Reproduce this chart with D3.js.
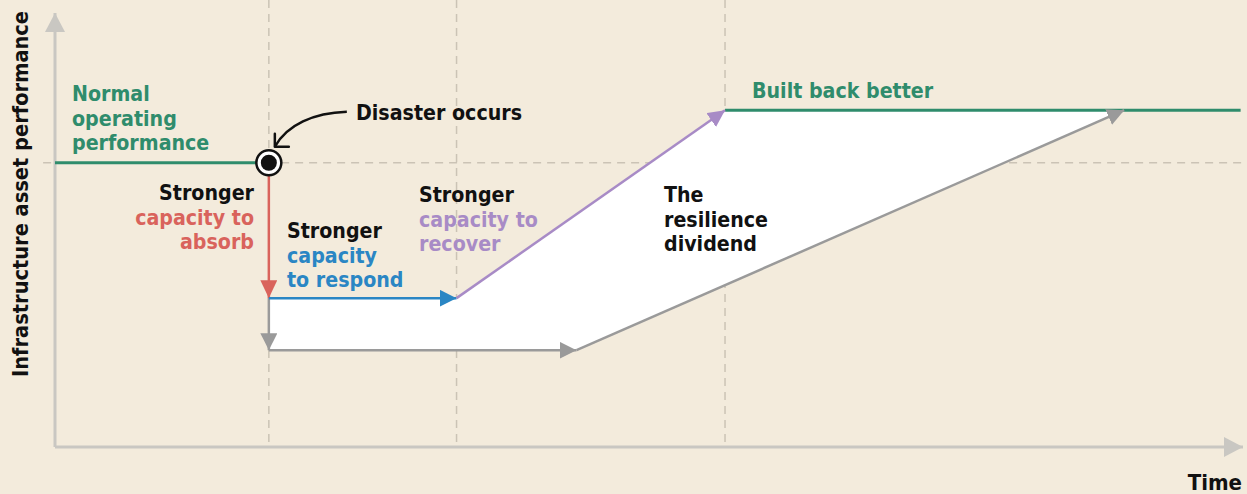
<!DOCTYPE html>
<html>
<head>
<meta charset="utf-8">
<script src="https://cdn.jsdelivr.net/npm/d3@7"></script>
<style>
  html, body { margin: 0; padding: 0; background: #f3ebdc; }
  svg text { font-family: "DejaVu Sans Condensed", "DejaVu Sans", sans-serif; font-weight: 700; }
</style>
</head>
<body>
<div id="chart"></div>
<script>
// Resilience dividend diagram

// Time markers (arbitrary units, 0-100)
const disasterT = 18;
const respondT = 33.8;
const slowTurnT = 43.9;
const rebuildT = 56.4;
const slowEndT = 90;
const endT = 99.8;
const guideTimes = [disasterT, respondT, rebuildT];

// Performance levels (arbitrary units, 0-100)
const normalLevel = 65.5;
const betterLevel = 77.6;
const absorbLevel = 34.3;
const slowLevel = 22.3;

// Series
const normalLine = [[0, normalLevel], [disasterT, normalLevel]];
const absorbArrow = [[disasterT, normalLevel], [disasterT, absorbLevel]];
const respondArrow = [[disasterT, absorbLevel], [respondT, absorbLevel]];
const recoverArrow = [[respondT, absorbLevel], [rebuildT, betterLevel]];
const betterLine = [[rebuildT, betterLevel], [endT, betterLevel]];
const slowArrows = [
  [[disasterT, absorbLevel], [disasterT, slowLevel]],
  [[disasterT, slowLevel], [slowTurnT, slowLevel]],
  [[slowTurnT, slowLevel], [slowEndT, betterLevel]],
];
const dividendArea = [
  [disasterT, absorbLevel], [respondT, absorbLevel], [rebuildT, betterLevel],
  [slowEndT, betterLevel], [slowTurnT, slowLevel], [disasterT, slowLevel],
];

const W = 1247, H = 494;
const colors = {
  green: "#2f8c6c",
  red: "#d9635c",
  blue: "#2a86c4",
  purple: "#a88bc6",
  grey: "#9a9a9a",
  axis: "#c9c7c2",
  guide: "#cbc3b5",
};

var svg = d3.select("#chart").append("svg")
  .attr("width", W)
  .attr("height", H);

var x = d3.scaleLinear().domain([0, 100]).range([55, 1243]);
var y = d3.scaleLinear().domain([0, 100]).range([447, 13]);

var line = d3.line()
  .x(function (d) { return x(d[0]); })
  .y(function (d) { return y(d[1]); });

// arrow markers
var defs = svg.append("defs");
function addMarker(id, color, len, wid) {
  defs.append("marker")
    .attr("id", id)
    .attr("markerUnits", "userSpaceOnUse")
    .attr("viewBox", "0 0 " + len + " " + wid)
    .attr("markerWidth", len)
    .attr("markerHeight", wid)
    .attr("refX", len)
    .attr("refY", wid / 2)
    .attr("orient", "auto")
    .append("path")
    .attr("d", "M0,0L" + len + "," + wid / 2 + "L0," + wid + "Z")
    .attr("fill", color);
}
addMarker("arr-red", colors.red, 18, 17);
addMarker("arr-blue", colors.blue, 17, 17);
addMarker("arr-purple", colors.purple, 17, 17);
addMarker("arr-grey", colors.grey, 17, 17);
addMarker("arr-axis", colors.axis, 19, 20);

// guide lines
svg.selectAll(".vguide")
  .data(guideTimes)
  .enter()
  .append("line")
  .attr("x1", function (d) { return x(d); })
  .attr("x2", function (d) { return x(d); })
  .attr("y1", 0)
  .attr("y2", y(0))
  .attr("stroke", colors.guide)
  .attr("stroke-width", 1.5)
  .attr("stroke-dasharray", "8,6");

svg.append("line")
  .attr("x1", x(-1))
  .attr("x2", x(100))
  .attr("y1", y(normalLevel))
  .attr("y2", y(normalLevel))
  .attr("stroke", colors.guide)
  .attr("stroke-width", 1.5)
  .attr("stroke-dasharray", "8,6");

// white dividend area
svg.append("path")
  .attr("d", line(dividendArea) + "Z")
  .attr("fill", "#ffffff");

// axes
svg.append("line")
  .attr("x1", x(0)).attr("y1", y(0))
  .attr("x2", x(0)).attr("y2", y(100))
  .attr("stroke", colors.axis)
  .attr("stroke-width", 3)
  .attr("marker-end", "url(#arr-axis)");
svg.append("line")
  .attr("x1", x(0)).attr("y1", y(0))
  .attr("x2", x(100)).attr("y2", y(0))
  .attr("stroke", colors.axis)
  .attr("stroke-width", 3)
  .attr("marker-end", "url(#arr-axis)");

function drawPath(data, color, width, marker) {
  var p = svg.append("path")
    .datum(data)
    .attr("d", line)
    .attr("fill", "none")
    .attr("stroke", color)
    .attr("stroke-width", width);
  if (marker) p.attr("marker-end", "url(#" + marker + ")");
  return p;
}

drawPath(normalLine, colors.green, 3);
drawPath(betterLine, colors.green, 3);
slowArrows.forEach(function (seg) {
  drawPath(seg, colors.grey, 2.5, "arr-grey");
});
drawPath(absorbArrow, colors.red, 2.5, "arr-red");
drawPath(respondArrow, colors.blue, 2.5, "arr-blue");
drawPath(recoverArrow, colors.purple, 2.5, "arr-purple");

// disaster marker
var dx = x(disasterT), dy = y(normalLevel);
svg.append("circle")
  .attr("cx", dx).attr("cy", dy).attr("r", 12.5)
  .attr("fill", "#ffffff")
  .attr("stroke", "#111")
  .attr("stroke-width", 2.5);
svg.append("circle")
  .attr("cx", dx).attr("cy", dy).attr("r", 8)
  .attr("fill", "#111");

// curved pointer from label
svg.append("path")
  .attr("d", "M" + (dx + 78) + "," + (dy - 51) +
    "C" + (dx + 45) + "," + (dy - 50) + " " + (dx + 18) + "," + (dy - 38) + " " + (dx + 6) + "," + (dy - 16))
  .attr("fill", "none")
  .attr("stroke", "#111")
  .attr("stroke-width", 2.5);
svg.append("path")
  .attr("d", "M" + (dx + 6) + "," + (dy - 29) + "L" + (dx + 6) + "," + (dy - 16) + "L" + (dx + 20) + "," + (dy - 16))
  .attr("fill", "none")
  .attr("stroke", "#111")
  .attr("stroke-width", 2.5)
  .attr("stroke-linejoin", "round")
  .attr("stroke-linecap", "round");

// text labels
function label(lines, px, py, anchor, size) {
  var t = svg.append("text")
    .attr("x", px)
    .attr("y", py)
    .attr("font-size", size || 21.2)
    .attr("text-anchor", anchor || "start");
  lines.forEach(function (l, i) {
    t.append("tspan")
      .attr("x", px)
      .attr("dy", i === 0 ? 0 : 24.5)
      .attr("fill", l[1])
      .text(l[0]);
  });
  return t;
}

label([["Normal", colors.green], ["operating", colors.green], ["performance", colors.green]], 72, 101);
label([["Disaster occurs", "#111"]], 356, 120);
label([["Stronger", "#111"], ["capacity to", colors.red], ["absorb", colors.red]], 254, 200, "end");
label([["Stronger", "#111"], ["capacity", colors.blue], ["to respond", colors.blue]], 287, 238);
label([["Stronger", "#111"], ["capacity to", colors.purple], ["recover", colors.purple]], 419, 202);
label([["The", "#111"], ["resilience", "#111"], ["dividend", "#111"]], 664, 202);
label([["Built back better", colors.green]], 752, 98);
label([["Time", "#111"]], 1242, 490, "end", 22);

svg.append("text")
  .attr("transform", "translate(28,377) rotate(-90)")
  .attr("font-size", 21.6)
  .attr("fill", "#111")
  .text("Infrastructure asset performance");
</script>
</body>
</html>
